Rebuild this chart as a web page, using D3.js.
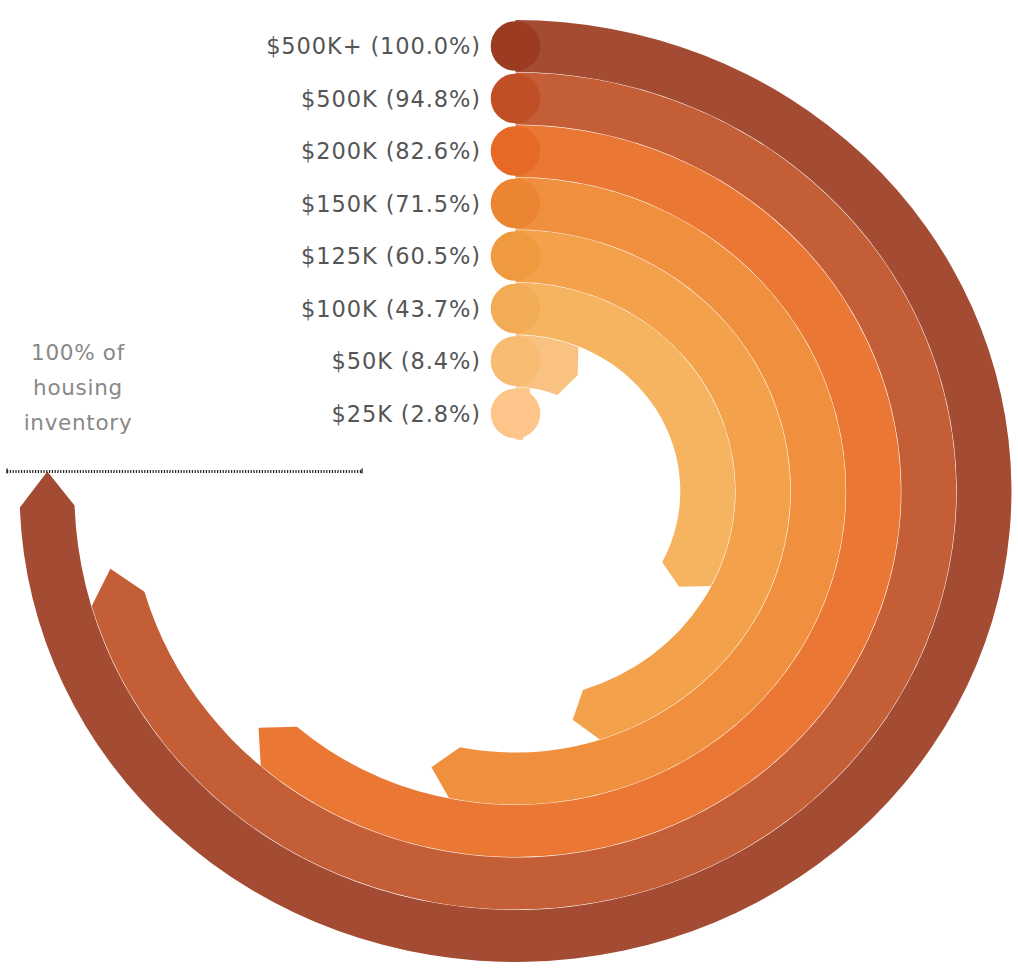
<!DOCTYPE html>
<html>
<head>
<meta charset="utf-8">
<script src="https://cdn.jsdelivr.net/npm/d3@7"></script>
<style>
  html, body { margin: 0; padding: 0; background: #fff; }
  svg { display: block; }
</style>
</head>
<body>
<svg id="chart" width="1018" height="973"></svg>
<script>
// Price tiers, outermost ring first, with cumulative share of housing inventory
const tiers = ["$500K+", "$500K", "$200K", "$150K", "$125K", "$100K", "$50K", "$25K"];
const shares = [100.0, 94.8, 82.6, 71.5, 60.5, 43.7, 8.4, 2.8];
const ringColors = ["#a44b33", "#c45e37", "#ea7834", "#f08f3d", "#f3a24b", "#f6b360", "#f9c280", "#fcc68c"];
const capColors  = ["#9b3b21", "#c04f26", "#e66a25", "#ec8532", "#f09a3f", "#f3ac56", "#f8bb72", "#fdc58a"];
const noteLines = ["100% of", "housing", "inventory"];

const svg = d3.select("#chart");
const cx = 515.5, cy = 491;
const sx = 1.053;              // horizontal stretch of the radial layout
const band = 52.5;             // ring spacing
const half = 26.0;             // half ring thickness
const tipSpan = 4.5 * Math.PI / 180;
const labelFont = "'DejaVu Sans', sans-serif";

// share (0..100) -> sweep angle from 12 o'clock, clockwise
const angle = d3.scaleLinear().domain([0, 100]).range([0, 268 * Math.PI / 180]);
// ring index -> mid radius
const radius = d3.scaleLinear().domain([0, tiers.length - 1]).range([445, 445 - band * (tiers.length - 1)]);

const rings = svg.append("g")
  .attr("transform", `translate(${cx},${cy}) scale(${sx},1)`);

function ringPath(share, i) {
  const rMid = radius(i), rOut = rMid + half, rIn = rMid - half;
  const a = angle(share);
  const p = d3.path();
  const s = d3.pointRadial(0, rOut);
  p.moveTo(s[0], s[1]);
  p.arc(0, 0, rOut, -Math.PI / 2, a - Math.PI / 2);
  const tip = d3.pointRadial(a + tipSpan, rMid);
  p.lineTo(tip[0], tip[1]);
  const inner = d3.pointRadial(a, rIn);
  p.lineTo(inner[0], inner[1]);
  p.arc(0, 0, rIn, a - Math.PI / 2, -Math.PI / 2, true);
  p.closePath();
  return p.toString();
}

rings.selectAll("path.ring")
  .data(shares)
  .join("path")
  .attr("class", "ring")
  .attr("d", (d, i) => ringPath(d, i))
  .attr("fill", (d, i) => ringColors[i]);

// round start caps
svg.append("g").selectAll("circle")
  .data(shares)
  .join("circle")
  .attr("cx", cx)
  .attr("cy", (d, i) => cy - radius(i))
  .attr("r", 24.8)
  .attr("fill", (d, i) => capColors[i]);

// tier labels
svg.append("g").selectAll("text")
  .data(tiers)
  .join("text")
  .attr("x", 481)
  .attr("y", (d, i) => cy - radius(i))
  .attr("dy", "0.36em")
  .attr("text-anchor", "end")
  .attr("font-family", labelFont)
  .attr("font-size", 22.5)
  .attr("letter-spacing", 0.9)
  .attr("fill", "#555")
  .text((d, i) => `${d} (${shares[i].toFixed(1)}%)`);

// reference line at the full-inventory angle
const fullTip = d3.pointRadial(angle(100) + tipSpan, radius(0));
const refY = cy + fullTip[1];
svg.append("line")
  .attr("x1", 7).attr("x2", 362)
  .attr("y1", refY).attr("y2", refY)
  .attr("stroke", "#222")
  .attr("stroke-width", 3)
  .attr("stroke-dasharray", "1.2,1.6");
svg.append("g").selectAll("line")
  .data([7, 362])
  .join("line")
  .attr("x1", d => d).attr("x2", d => d)
  .attr("y1", refY - 3).attr("y2", refY + 2)
  .attr("stroke", "#222").attr("stroke-width", 1.4);

svg.append("g").selectAll("text")
  .data(noteLines)
  .join("text")
  .attr("x", 78)
  .attr("y", (d, i) => 360 + i * 35)
  .attr("text-anchor", "middle")
  .attr("font-family", labelFont)
  .attr("font-size", 21.5)
  .attr("letter-spacing", 0.7)
  .attr("fill", "#888")
  .text(d => d);
</script>
</body>
</html>
